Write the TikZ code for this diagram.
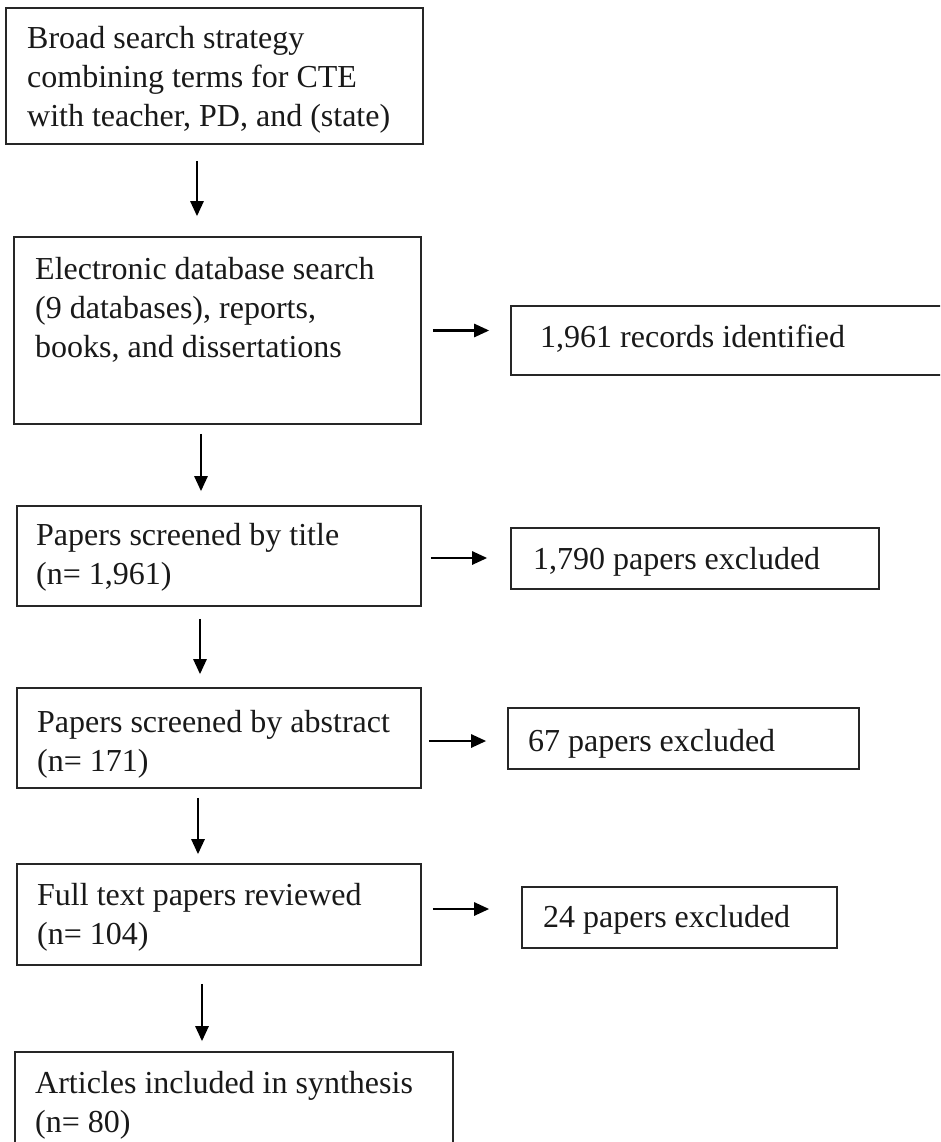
\documentclass[tikz,border=0pt]{standalone}
\usepackage{fontspec}
\setmainfont{Liberation Serif}
\usetikzlibrary{arrows.meta}
\begin{document}
\begin{tikzpicture}[x=1pt,y=-1pt,
  frame/.style={draw=black!85, line width=1.6pt, inner sep=0pt, rectangle},
  txt/.style={inner sep=0pt, anchor=base west, font=\fontsize{32}{39}\selectfont, text=black!90},
  arr/.style={-{Triangle[length=15pt,width=13pt]}, line width=2.6pt, draw=black}]
\useasboundingbox (0,0) rectangle (940,1142);
\clip (0,0) rectangle (940,1142);
\fill[white] (0,0) rectangle (940,1142);
% left column frames
\node[frame, minimum width=417pt, minimum height=136pt] (b1) at (214.5,76) {};
\node[frame, minimum width=407pt, minimum height=187pt] (b2) at (217.5,330.5) {};
\node[frame, minimum width=404pt, minimum height=100pt] (b3) at (219,556) {};
\node[frame, minimum width=404pt, minimum height=100pt] (b4) at (219,738) {};
\node[frame, minimum width=404pt, minimum height=101pt] (b5) at (219,914.5) {};
\node[frame, minimum width=438pt, minimum height=118pt] (b6) at (234,1111) {};
% right column frames
\node[frame, minimum width=444pt, minimum height=69pt] (r1) at (733,340.5) {};
\node[frame, minimum width=368pt, minimum height=61pt] (r2) at (695,558.5) {};
\node[frame, minimum width=351pt, minimum height=61pt] (r3) at (683.5,738.5) {};
\node[frame, minimum width=315pt, minimum height=61pt] (r4) at (679.5,917.5) {};
% texts
\node[txt] (t1) at (27,49) {\parbox[t]{400pt}{Broad search strategy\\combining terms for CTE\\with teacher, PD, and (state)}};
\node[txt] (t2) at (35,279) {\parbox[t]{390pt}{Electronic database search\\(9 databases), reports,\\books, and dissertations}};
\node[txt] (t3) at (36,545) {\parbox[t]{390pt}{Papers screened by title\\(n= 1,961)}};
\node[txt] (t4) at (37,732) {\parbox[t]{390pt}{Papers screened by abstract\\(n= 171)}};
\node[txt] (t5) at (37,905) {\parbox[t]{390pt}{Full text papers reviewed\\(n= 104)}};
\node[txt] (t6) at (35,1093) {\parbox[t]{420pt}{Articles included in synthesis\\(n= 80)}};
\node[txt] (s1) at (540,347) {1,961 records identified};
\node[txt] (s2) at (533,569) {1,790 papers excluded};
\node[txt] (s3) at (528,751) {67 papers excluded};
\node[txt] (s4) at (543,927) {24 papers excluded};
% vertical arrows
\draw[arr, shorten <=16pt, shorten >=20pt] ([xshift=-17.5pt]b1.south) -- ([xshift=-17.5pt]b1.south |- b2.north);
\draw[arr, shorten <=9pt, shorten >=14pt] ([xshift=-16.5pt]b2.south) -- ([xshift=-16.5pt]b2.south |- b3.north);
\draw[arr, shorten <=12pt, shorten >=13pt] ([xshift=-19pt]b3.south) -- ([xshift=-19pt]b3.south |- b4.north);
\draw[arr, shorten <=9pt, shorten >=9pt] ([xshift=-21pt]b4.south) -- ([xshift=-21pt]b4.south |- b5.north);
\draw[arr, shorten <=18pt, shorten >=10pt] ([xshift=-17pt]b5.south) -- ([xshift=-17pt]b5.south |- b6.north);
% horizontal arrows
\draw[arr, shorten <=11pt, shorten >=21pt] (b2.east) -- (b2.east -| r1.west);
\draw[arr, shorten <=9pt, shorten >=23pt] ([yshift=-2pt]b3.east) -- ([yshift=-2pt]b3.east -| r2.west);
\draw[arr, shorten <=7pt, shorten >=21pt] ([yshift=-3pt]b4.east) -- ([yshift=-3pt]b4.east -| r3.west);
\draw[arr, shorten <=11pt, shorten >=32pt] ([yshift=5.5pt]b5.east) -- ([yshift=5.5pt]b5.east -| r4.west);
\end{tikzpicture}
\end{document}
